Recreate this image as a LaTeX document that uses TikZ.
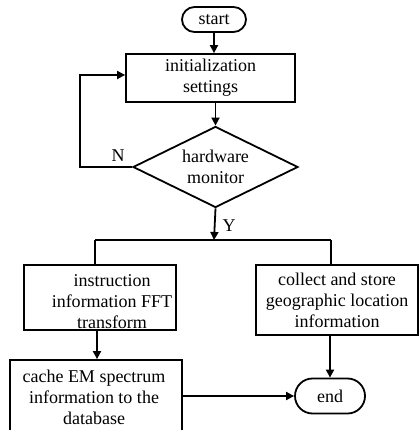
\documentclass[tikz,border=0pt]{standalone}
\usepackage{fontspec}
\setmainfont{Liberation Serif}
\usetikzlibrary{shapes.geometric,shapes.misc,arrows.meta}
\begin{document}
\begin{tikzpicture}[x=1pt,y=-1pt,
  every node/.style={font=\fontsize{18}{21}\selectfont, inner sep=0pt},
  box/.style={draw, line width=1.8pt, align=center},
  term/.style={draw, line width=1.8pt, rounded rectangle},
  dia/.style={draw, line width=1.8pt, diamond, minimum width=165pt, minimum height=81pt},
  conn/.style={line width=1.8pt},
  arr/.style={line width=1.8pt, -{Triangle[length=8pt,width=8pt]}}]
\useasboundingbox (0,0) rectangle (419,430);
\clip (0,0) rectangle (419,430);
\node[term, minimum width=64pt, minimum height=25pt] (start) at (214,19.5) {start};
\node[box, minimum width=169pt, minimum height=48pt] (init) at (210.5,78) {initialization\\settings};
\node[dia] (dec) at (215.5,167) {};
\node[align=center] (dect) at (215.5,167) {hardware\\monitor};
\node[box, minimum width=152pt, minimum height=65pt] (left) at (100,297.5) {};
\node[align=center] (leftt) at (112,302) {instruction\\information FFT\\transform};
\node[box, minimum width=162pt, minimum height=70pt] (right) at (337,300) {collect and store\\geographic location\\information};
\node[box, minimum width=172pt, minimum height=80pt] (cache) at (96,400) {};
\node[align=center] (cachet) at (94,397) {cache EM spectrum\\information to the\\database};
\node[term, minimum width=70pt, minimum height=35pt] (end) at (330,396) {end};
\coordinate (split) at (214,240);
\coordinate (loopa) at (80,167);
\coordinate (loopb) at (80,75);
\node[anchor=center] (nlab) at (118,156) {N};
\node[anchor=center] (ylab) at (229,226) {Y};
\draw[arr] (start) -- (start|-init.north);
\draw[arr] (init.south-|dec.north) -- (dec.north);
\draw[arr] (dec.west) -- (loopa) -- (loopb) -- (init.west|-loopb);
\draw[arr] (dec.south) -- (split);
\draw[conn] (split-|95,0) -- (split-|331,0);
\draw[conn] (split-|95,0) -- (95,0|-left.north);
\draw[conn] (split-|331,0) -- (331,0|-right.north);
\draw[arr] (97,0|-left.south) -- (97,0|-cache.north);
\draw[arr] (cache.east|-end) -- (end.west);
\draw[arr] (right.south-|end.north) -- (end.north);
\end{tikzpicture}
\end{document}
